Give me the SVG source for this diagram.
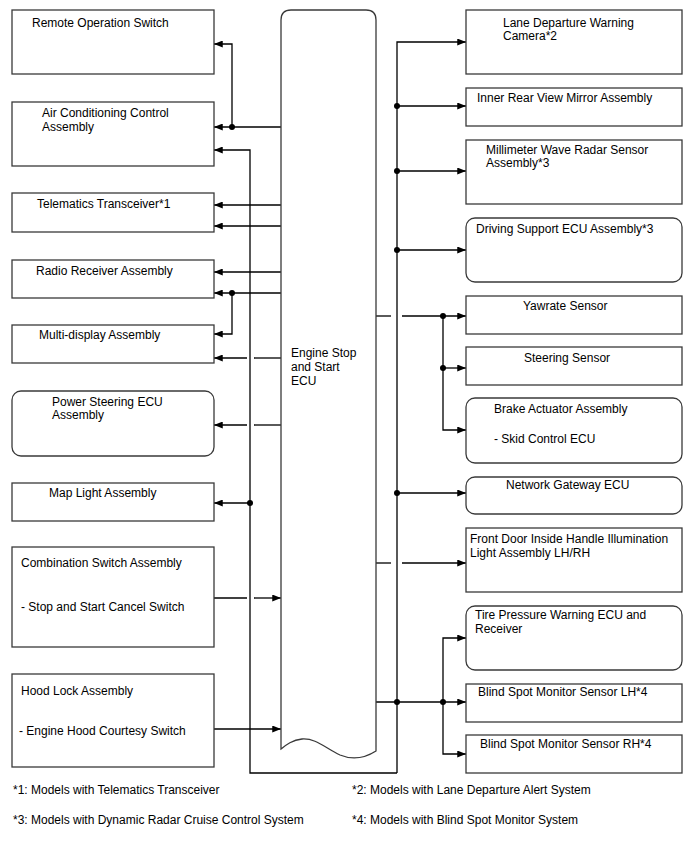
<svg xmlns="http://www.w3.org/2000/svg" width="688" height="852" viewBox="0 0 688 852">
<defs>
<marker id="arr" viewBox="0 0 10 8" refX="10" refY="4" markerWidth="9" markerHeight="7" markerUnits="userSpaceOnUse" orient="auto">
<path d="M0,0 L10,4 L0,8 Z" fill="#000"/>
</marker>
</defs>
<style>
.box{fill:#fff;stroke:#3a3a3a;stroke-width:1.3}
.t{font-family:"Liberation Sans",Arial,sans-serif;font-size:12px;fill:#000}
.c{fill:none;stroke:#000;stroke-width:1.3}
.a{fill:none;stroke:#000;stroke-width:1.3;marker-end:url(#arr)}
.d{fill:#000}
</style>
<rect width="688" height="852" fill="#fff"/>

<g id="connectors">
<path class="a" d="M281,127 H214"/>
<path class="a" d="M232,127 V44 H214"/>
<path class="a" d="M397,773 H250 V150 H214"/>
<path class="a" d="M281,205 H214"/>
<path class="a" d="M281,226 H214"/>
<path class="a" d="M281,272 H214"/>
<path class="a" d="M281,293 H214"/>
<path class="a" d="M232,293 V334 H214"/>
<path class="c" d="M281,358 H254"/>
<path class="a" d="M247,358 H214"/>
<path class="c" d="M281,425 H254"/>
<path class="a" d="M247,425 H214"/>
<path class="a" d="M250,503 H214"/>
<path class="c" d="M214,598 H247"/>
<path class="a" d="M254,598 H281"/>
<path class="a" d="M214,729 H281"/>
<path class="a" d="M397,773 V42 H466"/>
<path class="a" d="M397,106 H466"/>
<path class="a" d="M397,171 H466"/>
<path class="a" d="M397,250 H466"/>
<path class="c" d="M376,316 H391"/>
<path class="a" d="M402,316 H466"/>
<path class="a" d="M443,316 V430 H466"/>
<path class="a" d="M443,368 H466"/>
<path class="a" d="M397,493 H466"/>
<path class="c" d="M376,563 H391"/>
<path class="a" d="M402,563 H466"/>
<path class="a" d="M376,702 H466"/>
<path class="a" d="M443,702 V638 H466"/>
<path class="a" d="M443,702 V754 H466"/>
<circle class="d" cx="232" cy="127" r="3"/>
<circle class="d" cx="232" cy="293" r="3"/>
<circle class="d" cx="250" cy="503" r="3"/>
<circle class="d" cx="397" cy="106" r="3"/>
<circle class="d" cx="397" cy="171" r="3"/>
<circle class="d" cx="397" cy="250" r="3"/>
<circle class="d" cx="443" cy="316" r="3"/>
<circle class="d" cx="443" cy="368" r="3"/>
<circle class="d" cx="397" cy="493" r="3"/>
<circle class="d" cx="397" cy="702" r="3"/>
<circle class="d" cx="443" cy="702" r="3"/>
</g>

<g id="ecu">
<path class="box" d="M281,749 L281,20 Q281,10 291,10 L366,10 Q376,10 376,20 L376,751 C365,758 352,760 340,755 C325,748 316,738 302,739 C292,740 286,745 281,749 Z"/>
<text class="t" x="291" y="357">Engine Stop</text>
<text class="t" x="291" y="371">and Start</text>
<text class="t" x="291" y="385">ECU</text>
</g>

<g id="remote-operation-switch"><rect class="box" x="12" y="10" width="202" height="64"/><text class="t" x="32" y="27">Remote Operation Switch</text></g>
<g id="air-conditioning"><rect class="box" x="12" y="102" width="202" height="64"/><text class="t" x="42" y="117">Air Conditioning Control</text><text class="t" x="42" y="131">Assembly</text></g>
<g id="telematics"><rect class="box" x="12" y="193" width="202" height="39"/><text class="t" x="37" y="208">Telematics Transceiver*1</text></g>
<g id="radio-receiver"><rect class="box" x="12" y="260" width="202" height="38"/><text class="t" x="36" y="275">Radio Receiver Assembly</text></g>
<g id="multi-display"><rect class="box" x="12" y="325" width="202" height="38"/><text class="t" x="39" y="339">Multi-display Assembly</text></g>
<g id="power-steering"><rect class="box" x="12" y="391" width="202" height="65" rx="9"/><text class="t" x="52" y="406">Power Steering ECU</text><text class="t" x="52" y="419">Assembly</text></g>
<g id="map-light"><rect class="box" x="12" y="483" width="202" height="38"/><text class="t" x="49" y="497">Map Light Assembly</text></g>
<g id="combination-switch"><rect class="box" x="12" y="547" width="202" height="100"/><text class="t" x="21" y="567">Combination Switch Assembly</text><text class="t" x="21" y="611">- Stop and Start Cancel Switch</text></g>
<g id="hood-lock"><rect class="box" x="12" y="674" width="202" height="93"/><text class="t" x="21" y="695">Hood Lock Assembly</text><text class="t" x="19" y="735">- Engine Hood Courtesy Switch</text></g>

<g id="lane-departure"><rect class="box" x="466" y="10" width="216" height="64"/><text class="t" x="503" y="27">Lane Departure Warning</text><text class="t" x="503" y="40">Camera*2</text></g>
<g id="inner-mirror"><rect class="box" x="466" y="88" width="216" height="38"/><text class="t" x="477" y="102">Inner Rear View Mirror Assembly</text></g>
<g id="millimeter-wave"><rect class="box" x="466" y="140" width="216" height="64"/><text class="t" x="486" y="154">Millimeter Wave Radar Sensor</text><text class="t" x="486" y="167">Assembly*3</text></g>
<g id="driving-support"><rect class="box" x="466" y="218" width="216" height="64" rx="9"/><text class="t" x="476" y="233">Driving Support ECU Assembly*3</text></g>
<g id="yawrate"><rect class="box" x="466" y="296" width="216" height="38"/><text class="t" x="523" y="310">Yawrate Sensor</text></g>
<g id="steering-sensor"><rect class="box" x="466" y="347" width="216" height="38"/><text class="t" x="524" y="362">Steering Sensor</text></g>
<g id="brake-actuator"><rect class="box" x="466" y="398" width="216" height="65" rx="9"/><text class="t" x="494" y="413">Brake Actuator Assembly</text><text class="t" x="494" y="443">- Skid Control ECU</text></g>
<g id="network-gateway"><rect class="box" x="466" y="477" width="216" height="37" rx="9"/><text class="t" x="506" y="489">Network Gateway ECU</text></g>
<g id="front-door"><rect class="box" x="466" y="528" width="216" height="64"/><text class="t" x="470" y="543">Front Door Inside Handle Illumination</text><text class="t" x="470" y="557">Light Assembly LH/RH</text></g>
<g id="tire-pressure"><rect class="box" x="466" y="606" width="216" height="64" rx="9"/><text class="t" x="475" y="619">Tire Pressure Warning ECU and</text><text class="t" x="475" y="633">Receiver</text></g>
<g id="blind-spot-lh"><rect class="box" x="466" y="684" width="216" height="38"/><text class="t" x="478" y="696">Blind Spot Monitor Sensor LH*4</text></g>
<g id="blind-spot-rh"><rect class="box" x="466" y="735" width="216" height="38"/><text class="t" x="480" y="748">Blind Spot Monitor Sensor RH*4</text></g>

<g id="footnotes">
<text class="t" x="13" y="794">*1: Models with Telematics Transceiver</text>
<text class="t" x="352" y="794">*2: Models with Lane Departure Alert System</text>
<text class="t" x="13" y="824">*3: Models with Dynamic Radar Cruise Control System</text>
<text class="t" x="352" y="824">*4: Models with Blind Spot Monitor System</text>
</g>
</svg>
